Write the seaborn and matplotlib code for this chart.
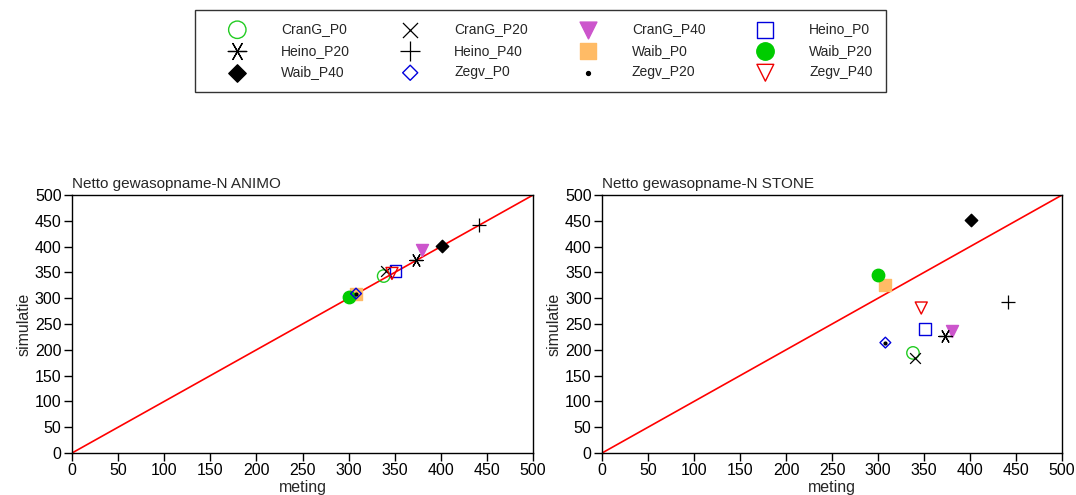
import matplotlib
matplotlib.use("Agg")
import matplotlib.pyplot as plt
import seaborn as sns
import pandas as pd

# data (kg N/ha)
namen = ["CranG_P0", "CranG_P20", "CranG_P40", "Heino_P0", "Heino_P20", "Heino_P40",
         "Waib_P0", "Waib_P20", "Waib_P40", "Zegv_P0", "Zegv_P20", "Zegv_P40"]
meting = [338, 340, 380, 351, 373, 441, 308, 300, 401, 308, 308, 347]
animo = [343, 353, 394, 353, 374, 442, 309, 303, 402, 309, 309, 348]
stone = [194, 184, 236, 240, 227, 292, 326, 345, 451, 214, 214, 281]

# marker style per series: (marker, facecolor, edgecolor, size)
stijl = {
    "CranG_P0": ("o", "none", "#22cc22", 80),
    "CranG_P20": ("x", "black", "black", 60),
    "CranG_P40": ("v", "#cc55cc", "#cc55cc", 75),
    "Heino_P0": ("s", "none", "#0000dd", 70),
    "Heino_P20": ((6, 2, 90), "black", "black", 90),
    "Heino_P40": ("+", "black", "black", 110),
    "Waib_P0": ("s", "#ffbb66", "#ffbb66", 70),
    "Waib_P20": ("o", "#00cc00", "#00cc00", 80),
    "Waib_P40": ("D", "black", "black", 40),
    "Zegv_P0": ("D", "none", "#0000dd", 30),
    "Zegv_P20": ("o", "black", "black", 4),
    "Zegv_P40": ("v", "none", "#ee0000", 75),
}

df = pd.DataFrame({"naam": namen, "meting": meting, "ANIMO": animo, "STONE": stone})

sns.set_style("ticks")
plt.rcParams["font.family"] = ["Liberation Sans", "DejaVu Sans"]
plt.rcParams["font.size"] = 11.5

fig = plt.figure(figsize=(10.76, 4.95), dpi=100)
ax1 = fig.add_axes([0.0669, 0.0848, 0.4285, 0.5212])
ax2 = fig.add_axes([0.5595, 0.0848, 0.4275, 0.5212])

handles = []
for ax, model in [(ax1, "ANIMO"), (ax2, "STONE")]:
    ax.plot([0, 500], [0, 500], color="red", lw=1.2, zorder=1)
    for naam in namen:
        m, fc, ec, s = stijl[naam]
        rij = df[df["naam"] == naam]
        if m in ("x", "+") or isinstance(m, tuple):
            sns.scatterplot(data=rij, x="meting", y=model, marker=m, color=ec,
                            s=s, linewidth=0.9, ax=ax, zorder=3, label=naam)
        else:
            sns.scatterplot(data=rij, x="meting", y=model, marker=m, facecolor=fc,
                            edgecolor=ec, s=s, linewidth=1.0, ax=ax, zorder=3, label=naam)
    if model == "ANIMO":
        handles, labels = ax.get_legend_handles_labels()
    ax.get_legend().remove()
    ax.set_xlim(0, 500)
    ax.set_ylim(0, 500)
    ax.set_xticks(range(0, 501, 50))
    ax.set_yticks(range(0, 501, 50))
    ax.set_xlabel("meting", labelpad=1)
    ax.set_ylabel("simulatie", labelpad=2)
    ax.set_title("Netto gewasopname-N " + model, loc="left", fontsize=11, pad=5)
    for sp in ax.spines.values():
        sp.set_color("black")
        sp.set_linewidth(1.0)
    ax.tick_params(direction="out", length=5.5, width=1, colors="black", pad=2)

# legend is filled row by row in the reference
volgorde = [0, 4, 8, 1, 5, 9, 2, 6, 10, 3, 7, 11]
leg = fig.legend([handles[i] for i in volgorde], [labels[i] for i in volgorde],
                 loc="upper center", bbox_to_anchor=(0.502, 0.98), ncol=4,
                 fontsize=10, frameon=True, fancybox=False, edgecolor="black",
                 handlelength=4.33, handletextpad=1.0, columnspacing=2.15,
                 labelspacing=0.54, borderpad=0.9, borderaxespad=0,
                 markerscale=1.4)
leg.get_frame().set_linewidth(1.0)

fig.savefig("out.png", dpi=100)
